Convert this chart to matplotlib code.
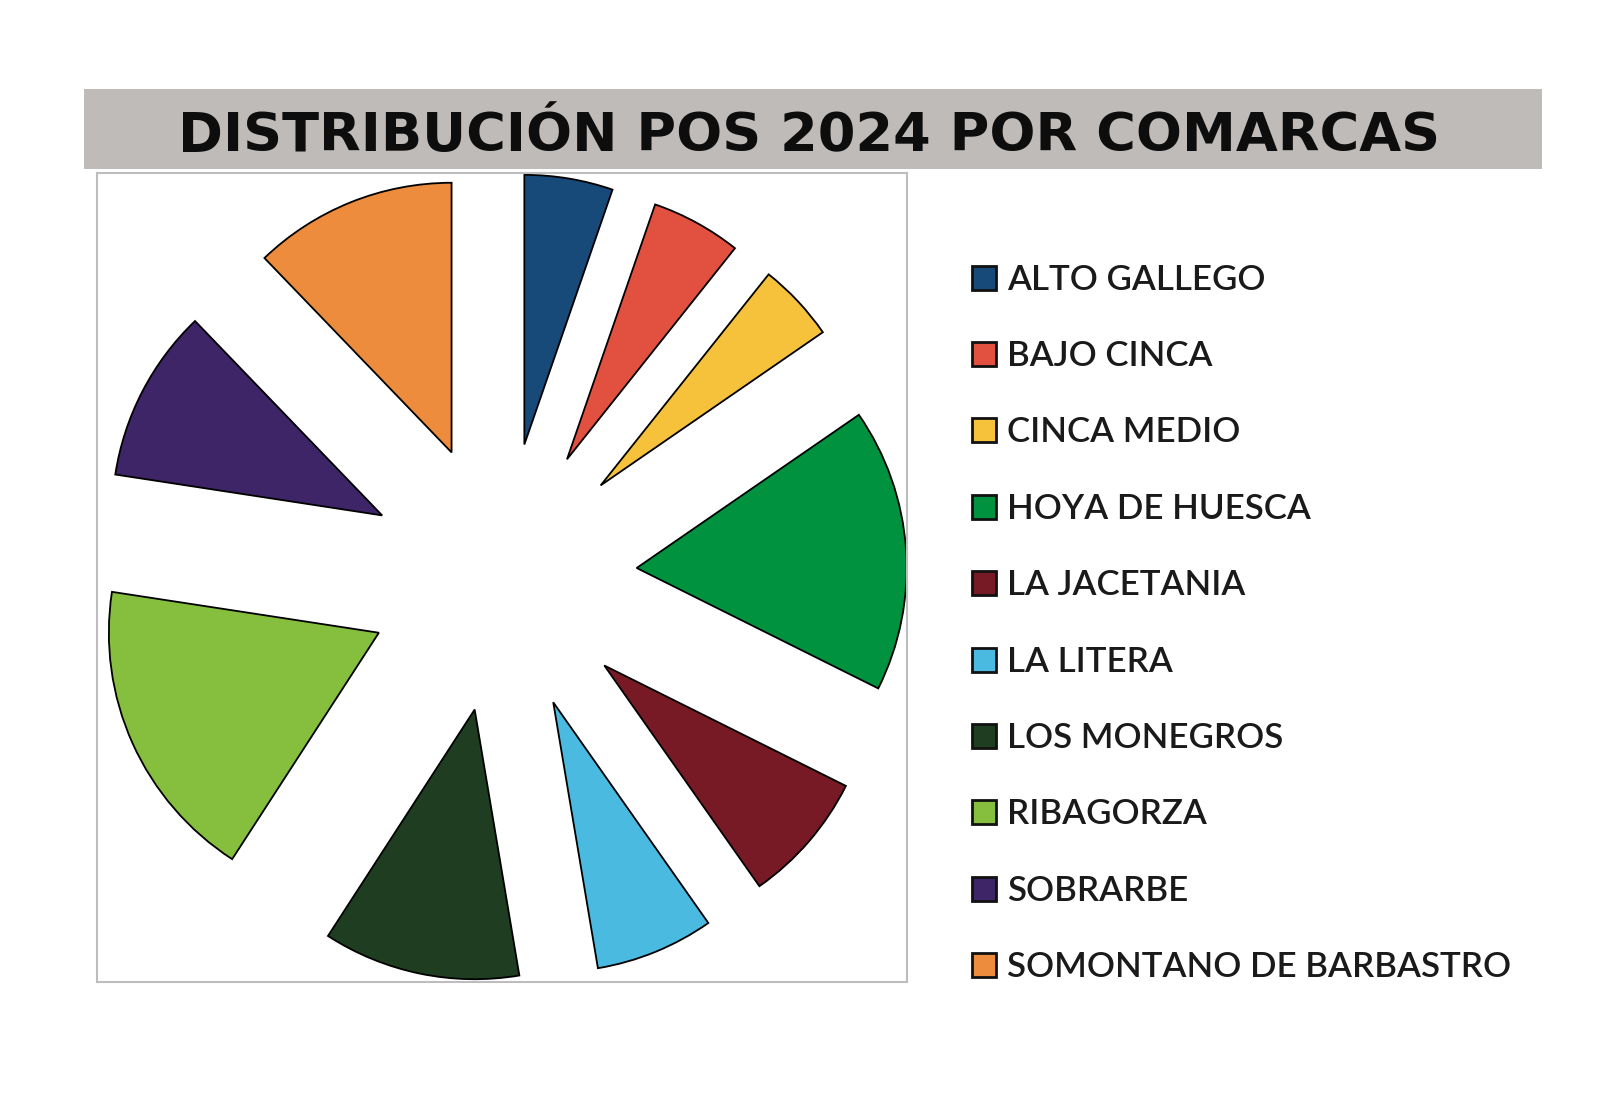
import matplotlib.pyplot as plt
from matplotlib.patches import Rectangle

comarcas = ['ALTO GALLEGO', 'BAJO CINCA', 'CINCA MEDIO', 'HOYA DE HUESCA',
            'LA JACETANIA', 'LA LITERA', 'LOS MONEGROS', 'RIBAGORZA',
            'SOBRARBE', 'SOMONTANO DE BARBASTRO']
# share of POS per comarca (%)
share = [5.3, 5.4, 4.7, 17.0, 7.9, 7.1, 11.8, 18.3, 10.4, 12.2]
colores = ['#174A78', '#E2513F', '#F6C23C', '#00923F', '#771A26',
           '#4BBAE0', '#1F3D20', '#86BE3E', '#3E2568', '#EC8C3C']

W, H = 1600, 1112
fig = plt.figure(figsize=(W / 100, H / 100), dpi=100)
fig.patch.set_facecolor('white')

# title band
fig.patches.append(Rectangle((84 / W, 1 - 169 / H), (1542 - 84) / W, 80 / H,
                             transform=fig.transFigure, facecolor='#BEBBB8',
                             edgecolor='none'))
fig.text(809 / W, 1 - 151 / H, 'DISTRIBUCIÓN POS 2024 POR COMARCAS',
         ha='center', va='baseline', fontsize=39, fontweight='bold',
         family='DejaVu Sans', color='#0d0d0d')

ax = fig.add_axes([97 / W, 1 - 982 / H, 810 / W, 809 / H])
ax.pie(share, colors=colores, explode=[0.5] * len(share), startangle=90,
       counterclock=False, wedgeprops=dict(edgecolor='black', linewidth=1.3))
ax.set_xlim(-1.5, 1.5)
ax.set_ylim(-1.5, 1.5)
ax.set_aspect('auto')
ax.set_xticks([])
ax.set_yticks([])
ax.set_frame_on(True)
for s in ax.spines.values():
    s.set_color('#BDBDBD')
    s.set_linewidth(1.5)

# legend
y0, dy = 277.5, 76.4
for i, (lab, col) in enumerate(zip(comarcas, colores)):
    y = y0 + i * dy
    fig.patches.append(Rectangle((972 / W, 1 - (y + 12) / H), 24 / W, 24 / H,
                                 transform=fig.transFigure, facecolor=col,
                                 edgecolor='#111111', linewidth=2))
    fig.text(1007 / W, 1 - (y + 12) / H, lab, ha='left', va='baseline',
             fontsize=25.1, family='Lato', fontweight='semibold',
             color='#1a1a1a')

fig.savefig('out.png', dpi=100)
